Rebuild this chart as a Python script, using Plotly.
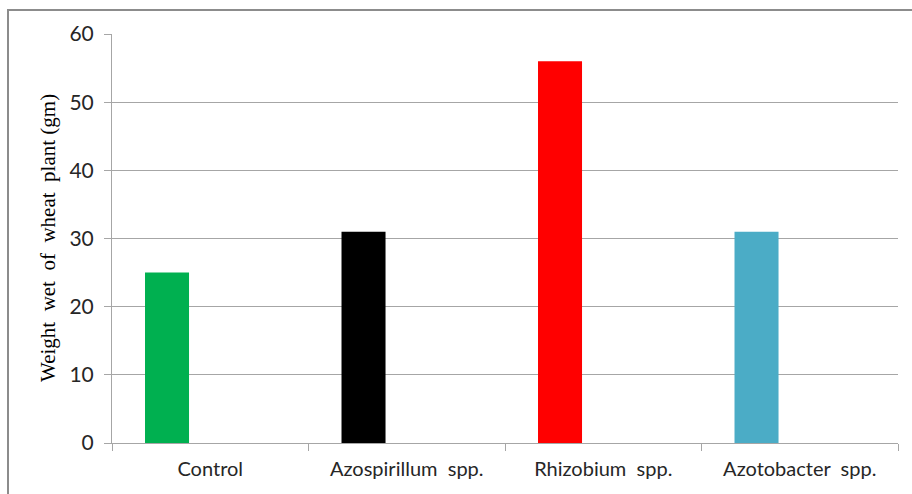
import plotly.graph_objects as go

# Wheat plant fresh weight by inoculation treatment
categories = ["Control", "Azospirillum  spp.", "Rhizobium  spp.", "Azotobacter  spp."]
weights = [25, 31, 56, 31]
bar_colors = ["#00B050", "#000000", "#FF0000", "#4BACC6"]
y_ticks = [0, 10, 20, 30, 40, 50, 60]

W, H = 912, 494
ml, mr, mt, mb = 112, 14, 34, 51
pw, ph = W - ml - mr, H - mt - mb

def px_x(p):
    return (p - ml) / pw

def px_y(p):
    return (H - mb - p) / ph

fig = go.Figure(
    go.Bar(
        x=categories,
        y=weights,
        marker=dict(color=bar_colors, line=dict(width=0)),
        width=0.224,
        offset=-0.332,
        hoverinfo="x+y",
    )
)

grid = "#a6a6a6"
fig.update_layout(
    width=W,
    height=H,
    margin=dict(l=ml, r=mr, t=mt, b=mb),
    paper_bgcolor="white",
    plot_bgcolor="white",
    showlegend=False,
    font=dict(family="Lato, 'Open Sans', sans-serif", color="#262626"),
    xaxis=dict(
        type="category",
        tickson="boundaries",
        ticks="outside",
        ticklen=7,
        tickcolor=grid,
        showline=True,
        linecolor=grid,
        linewidth=1,
        showgrid=False,
        tickfont=dict(size=20, color="#262626"),
        ticklabelstandoff=8,
    ),
    yaxis=dict(
        range=[0, 60],
        tickvals=y_ticks,
        ticks="outside",
        ticklen=7,
        tickcolor=grid,
        showline=True,
        linecolor=grid,
        linewidth=1,
        showgrid=True,
        gridcolor=grid,
        gridwidth=1,
        zeroline=False,
        tickfont=dict(size=21, color="#262626"),
        ticklabelstandoff=6,
    ),
    annotations=[
        dict(
            text="Weight  wet  of  wheat  plant (gm)",
            xref="paper",
            yref="paper",
            x=px_x(48),
            y=px_y(238),
            xanchor="center",
            yanchor="middle",
            textangle=-90,
            showarrow=False,
            font=dict(family="'Liberation Serif', 'Times New Roman', serif", size=21, color="#000000"),
        )
    ],
    shapes=[
        dict(
            type="path",
            xref="paper",
            yref="paper",
            path=f"M {px_x(8)} {px_y(500)} L {px_x(8)} {px_y(10)} L {px_x(920)} {px_y(10)}",
            line=dict(color="#8c8c8c", width=2),
        )
    ],
)

fig.write_html("out.html")
